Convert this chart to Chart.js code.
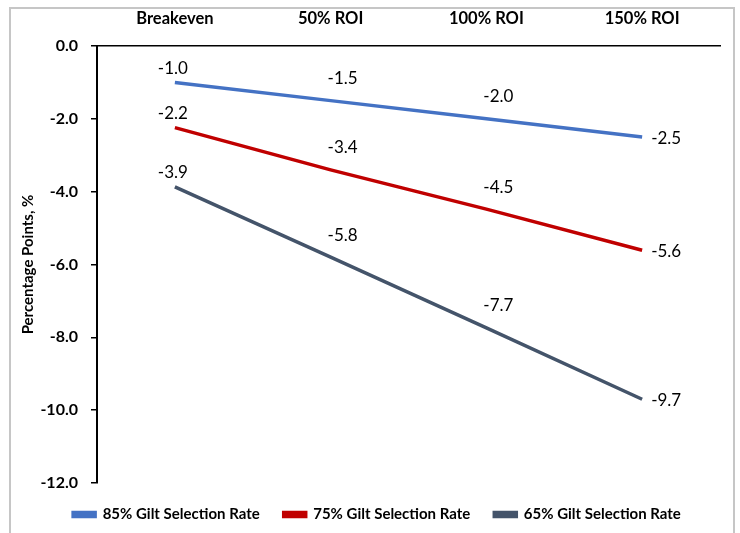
<!DOCTYPE html>
<html>
<head>
<meta charset="utf-8">
<script src="https://cdn.jsdelivr.net/npm/chart.js@4.4.0/dist/chart.umd.min.js"></script>
<style>
  html, body { margin: 0; padding: 0; background: #fff; }
  #wrap { position: relative; width: 740px; height: 533px; overflow: hidden; }
  #frame { position: absolute; left: 9px; top: 7px; width: 722px; height: 540px; border: 2px solid #c6c6c6; }
  #chart { position: absolute; left: 0; top: 0; }
</style>
</head>
<body>
<div id="wrap">
  <div id="frame"></div>
  <canvas id="chart" width="740" height="533"></canvas>
</div>
<script>
const categories = ['Breakeven', '50% ROI', '100% ROI', '150% ROI'];
const rate85 = [-1.0, -1.5, -2.0, -2.5];
const rate75 = [-2.24, -3.4, -4.48, -5.61];
const rate65 = [-3.87, -5.8, -7.74, -9.7];
const seriesNames = ['85% Gilt Selection Rate', '75% Gilt Selection Rate', '65% Gilt Selection Rate'];
const yTicks = [0, -2, -4, -6, -8, -10, -12];

const FONT = 'Lato, "Open Sans", sans-serif';

// data labels: first point above, middle points above-right, last point to the right
const valueLabels = {
  id: 'valueLabels',
  afterDatasetsDraw(chart) {
    const ctx = chart.ctx;
    ctx.save();
    ctx.font = '17px ' + FONT;
    ctx.fillStyle = '#000';
    chart.data.datasets.forEach((ds, i) => {
      const meta = chart.getDatasetMeta(i);
      meta.data.forEach((pt, j) => {
        const txt = ds.data[j].toFixed(1);
        const last = meta.data.length - 1;
        ctx.textBaseline = 'middle';
        if (j === 0) {
          ctx.textAlign = 'center';
          ctx.fillText(txt, pt.x - 2, pt.y - 14);
        } else if (j === last) {
          ctx.textAlign = 'left';
          ctx.fillText(txt, pt.x + 9, pt.y + 1);
        } else {
          ctx.textAlign = 'center';
          ctx.fillText(txt, pt.x + 12, pt.y - 22);
        }
      });
    });
    ctx.restore();
  }
};

function line(label, data, color) {
  return {
    label: label,
    data: data,
    borderColor: color,
    backgroundColor: color,
    borderWidth: 3.5,
    pointRadius: 0,
    pointHoverRadius: 0,
    tension: 0
  };
}

new Chart(document.getElementById('chart'), {
  type: 'line',
  data: {
    labels: categories,
    datasets: [
      line(seriesNames[0], rate85, '#4472C4'),
      line(seriesNames[1], rate75, '#C00000'),
      line(seriesNames[2], rate65, '#44546A')
    ]
  },
  options: {
    responsive: false,
    animation: false,
    layout: { padding: { left: 34, right: 20, top: 0, bottom: 1 } },
    plugins: {
      legend: {
        position: 'bottom',
        labels: {
          boxWidth: 22,
          boxHeight: 4,
          padding: 24,
          color: '#000',
          font: { family: FONT, size: 15, weight: 'bold' }
        }
      },
      tooltip: { enabled: false }
    },
    scales: {
      x: {
        position: 'top',
        offset: true,
        grid: { display: false, drawTicks: false },
        border: { display: true, color: '#000', width: 1.5 },
        ticks: {
          color: '#000',
          padding: 17,
          font: { family: FONT, size: 16.5, weight: 'bold' }
        },
        afterFit(scale) { scale.height = 46; }
      },
      y: {
        min: -12,
        max: 0,
        afterBuildTicks(scale) { scale.ticks = yTicks.map(v => ({ value: v })); },
        grid: { drawOnChartArea: false, tickLength: 6, color: '#000', lineWidth: 1.5 },
        border: { display: true, color: '#000', width: 2 },
        ticks: {
          color: '#000',
          padding: 13,
          font: { family: FONT, size: 16, weight: 'bold' },
          callback: v => Number(v).toFixed(1)
        },
        title: {
          display: true,
          text: 'Percentage Points, %',
          color: '#000',
          padding: { top: -15, bottom: 0 },
          font: { family: FONT, size: 15, weight: 'bold' }
        },
        afterFit(scale) { scale.width = 63; }
      }
    }
  },
  plugins: [valueLabels]
});
</script>
</body>
</html>
